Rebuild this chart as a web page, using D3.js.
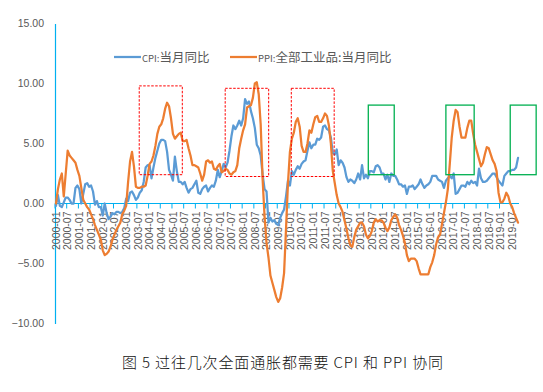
<!DOCTYPE html>
<html><head><meta charset="utf-8">
<script src="https://cdn.jsdelivr.net/npm/d3@7"></script>
<style>body{margin:0;background:#fff}svg{display:block}</style>
</head><body>
<svg id="c" width="543" height="392"></svg>
<script>
// categories: monthly 2000-01 .. 2019-10
const startYear = 2000;
const nMonths = 238;
const months = d3.range(nMonths).map(i => `${startYear + Math.floor(i / 12)}-${String(i % 12 + 1).padStart(2, "0")}`);
const tickLabels = months.filter((m, i) => i % 6 === 0);
const yTicks = [15, 10, 5, 0, -5, -10];

const cpi = [
 -0.2,0.7,-0.2,-0.3,0.1,0.5,0.5,0.3,0.0,0.0,1.3,1.5,
 1.2,0.0,0.8,1.6,1.7,1.4,1.5,1.0,-0.1,0.2,-0.3,-0.3,
 -1.0,0.0,-0.8,-1.3,-1.1,-0.8,-0.9,-0.7,-0.7,-0.8,-0.7,-0.4,
 0.4,0.2,0.9,1.0,0.7,0.3,0.5,0.9,1.1,1.8,3.0,3.2,
 3.2,2.1,3.0,3.8,4.4,5.0,5.3,5.3,5.2,4.3,2.8,2.4,
 1.9,3.9,2.7,1.8,1.8,1.6,1.8,1.3,0.9,1.2,1.3,1.6,
 1.9,0.9,0.8,1.2,1.4,1.5,1.0,1.3,1.5,1.4,1.9,2.8,
 2.2,2.7,3.3,3.0,3.4,4.4,5.6,6.5,6.2,6.5,6.9,6.5,
 7.1,8.7,8.3,8.5,7.7,7.1,6.3,4.9,4.6,4.0,2.4,1.2,
 1.0,-1.6,-1.2,-1.5,-1.4,-1.7,-1.8,-1.2,-0.8,-0.5,0.6,1.9,
 1.5,2.7,2.4,2.8,3.1,2.9,3.3,3.5,3.6,4.4,5.1,4.6,
 4.9,4.9,5.4,5.3,5.5,6.4,6.5,6.2,6.1,5.5,4.2,4.1,
 4.5,3.2,3.6,3.4,3.0,2.2,1.8,2.0,1.9,1.7,2.0,2.5,
 2.0,3.2,2.1,2.4,2.1,2.7,2.7,2.6,3.1,3.2,3.0,2.5,
 2.5,2.0,2.4,1.8,2.5,2.3,2.3,2.0,1.6,1.6,1.4,1.5,
 0.8,1.4,1.4,1.5,1.2,1.4,1.6,2.0,1.6,1.3,1.5,1.6,
 1.8,2.3,2.3,2.3,2.0,1.9,1.8,1.3,1.9,2.1,2.3,2.1,
 2.5,0.8,0.9,1.2,1.5,1.5,1.4,1.8,1.6,1.9,1.7,1.8,
 1.5,2.9,2.1,1.8,1.8,1.9,2.1,2.3,2.5,2.5,2.2,1.9,
 1.7,1.5,2.3,2.5,2.7,2.7,2.8,2.8,3.0,3.8
];
const ppi = [
 0.0,1.2,2.0,2.5,0.6,2.5,4.4,4.0,3.8,3.6,3.4,2.8,
 2.3,1.3,0.3,0.0,-0.3,-0.5,-0.9,-1.3,-1.8,-2.2,-2.6,-3.0,
 -3.9,-4.3,-4.2,-4.0,-3.6,-3.0,-2.6,-2.2,-1.9,-1.6,-0.9,-0.6,
 -0.2,1.8,3.5,4.3,3.1,1.4,1.3,1.3,1.4,1.4,1.5,2.3,
 3.3,3.5,4.0,4.8,5.8,6.4,6.6,7.1,7.9,8.4,8.1,7.1,
 5.8,5.4,5.6,5.8,5.9,5.2,5.2,5.3,4.6,4.0,3.2,3.2,
 3.1,3.0,2.5,1.9,2.4,3.5,3.6,3.4,3.5,2.9,2.8,3.1,
 3.3,2.6,2.7,2.9,2.8,2.5,2.4,2.6,2.7,3.2,4.6,5.4,
 6.1,6.6,8.0,8.1,8.2,8.8,10.0,10.1,9.1,6.6,2.0,-1.1,
 -3.3,-4.5,-6.0,-6.6,-7.2,-7.8,-8.2,-7.9,-7.0,-5.8,-2.1,1.7,
 4.3,5.4,5.9,6.8,7.1,6.4,4.8,4.3,4.3,5.0,6.1,5.9,
 6.6,7.2,7.3,6.8,6.8,7.1,7.5,7.3,6.5,5.0,2.7,1.7,
 0.7,0.0,-0.3,-0.7,-1.4,-2.1,-2.9,-3.5,-3.6,-2.8,-2.2,-1.9,
 -1.6,-1.6,-1.9,-2.6,-2.9,-2.7,-2.3,-1.6,-1.3,-1.5,-1.4,-1.4,
 -1.6,-2.0,-2.3,-2.0,-1.4,-1.1,-0.9,-1.2,-1.8,-2.2,-2.7,-3.3,
 -4.3,-4.8,-4.6,-4.6,-4.6,-4.8,-5.4,-5.9,-5.9,-5.9,-5.9,-5.9,
 -5.3,-4.9,-4.3,-3.4,-2.8,-2.6,-1.7,-0.8,0.1,1.2,3.3,5.5,
 6.9,7.8,7.6,6.4,5.5,5.5,5.5,6.3,6.9,6.9,5.8,4.9,
 4.3,3.7,3.1,3.4,4.1,4.7,4.6,4.1,3.6,3.3,2.7,0.9,
 0.1,0.1,0.4,0.9,0.6,0.0,-0.3,-0.8,-1.2,-1.6
];
const seriesNames = ["CPI:当月同比", "PPI:全部工业品:当月同比"];
const seriesColors = ["#5B9BD5", "#ED7D31"];
// highlight boxes: [from month-position, to month-position, low value, high value, kind]
const boxes = [
 [43.2, 65.3, 2.4, 9.8, "red"],
 [87.3, 109.6, 2.25, 9.6, "red"],
 [121.2, 143.2, 2.25, 9.6, "red"],
 [160.7, 174.0, 2.4, 8.2, "green"],
 [200.5, 215.0, 2.4, 8.2, "green"],
 [233.5, 246.8, 2.4, 8.2, "green"]
];
const title = "图 5 过往几次全面通胀都需要 CPI 和 PPI 协同";

const svg = d3.select("#c");
const L = 55, R = 519, T = 23.5, B = 323.5;
const x = d3.scaleBand().domain(months).range([L, R]).padding(0);
const xPos = d3.scaleLinear().domain([0, nMonths]).range([L, R]);
const y = d3.scaleLinear().domain([-10, 15]).range([B, T]);
const axisColor = "#00B0F0";
const txtColor = "#595959";

// y axis
const yAxis = svg.append("g").attr("transform", `translate(${L},0)`)
  .call(d3.axisLeft(y).tickValues(yTicks).tickFormat(d3.format(".2f")).tickSize(0).tickPadding(11));
yAxis.select(".domain").attr("stroke", axisColor).attr("stroke-width", 1.2);
yAxis.selectAll("text").attr("fill", txtColor).style("font-family", "Liberation Sans, Arial, sans-serif").style("font-size", "10.5px");

// x axis at y=0
const xAxisG = svg.append("g").attr("transform", `translate(0,${y(0)})`);
xAxisG.append("line").attr("x1", L).attr("x2", R).attr("stroke", axisColor).attr("stroke-width", 1.2);
xAxisG.selectAll("line.tk").data(d3.range(0, nMonths + 1, 6)).join("line").attr("class", "tk")
  .attr("x1", d => xPos(d)).attr("x2", d => xPos(d)).attr("y1", 0).attr("y2", 5)
  .attr("stroke", axisColor).attr("stroke-width", 1);
xAxisG.selectAll("text").data(tickLabels).join("text")
  .attr("transform", d => `translate(${x(d) + x.bandwidth() / 2 + 3.8},8) rotate(-90)`)
  .attr("text-anchor", "end")
  .attr("fill", txtColor)
  .style("font-family", "Liberation Sans, Arial, sans-serif").style("font-size", "10.5px")
  .text(d => d);

// lines
const line = d3.line().x((d, i) => x(months[i]) + x.bandwidth() / 2).y(d => y(d)).curve(d3.curveLinear);
[cpi, ppi].forEach((s, k) => {
  svg.append("path").datum(s).attr("d", line).attr("fill", "none")
    .attr("stroke", seriesColors[k]).attr("stroke-width", 2.25).attr("stroke-linejoin", "round").attr("stroke-linecap", "round");
});

// boxes
svg.selectAll("rect.box").data(boxes).join("rect").attr("class", "box")
  .attr("x", d => xPos(d[0])).attr("width", d => xPos(d[1]) - xPos(d[0]))
  .attr("y", d => y(d[3])).attr("height", d => y(d[2]) - y(d[3]))
  .attr("fill", "none")
  .attr("stroke", d => d[4] === "red" ? "#FF0000" : "#00B050")
  .attr("stroke-width", d => d[4] === "red" ? 1 : 1.3)
  .attr("stroke-dasharray", d => d[4] === "red" ? "2.5,1.5" : null);

// legend
const legendX = [114, 230];
seriesNames.forEach((n, k) => {
  const g = svg.append("g").attr("transform", `translate(${legendX[k]},57)`);
  g.append("line").attr("x1", 0).attr("x2", 27).attr("stroke", seriesColors[k]).attr("stroke-width", 2.25);
  const t = g.append("text").attr("x", 28).attr("y", 4.5).attr("fill", txtColor)
    .style("font-family", "Noto Sans CJK SC, sans-serif").style("font-size", "12.5px");
  const idx = n.indexOf(":");
  t.append("tspan").style("font-size", "9.5px").text(n.slice(0, idx + 1));
  t.append("tspan").text(n.slice(idx + 1));
});

// title
svg.append("text").attr("x", 122).attr("y", 368)
  .attr("textLength", 321).attr("lengthAdjust", "spacing")
  .attr("fill", "#111").style("font-family", "Noto Sans CJK SC, sans-serif").style("font-size", "15px")
  .style("font-weight", 300)
  .text(title);
</script>
</body></html>
